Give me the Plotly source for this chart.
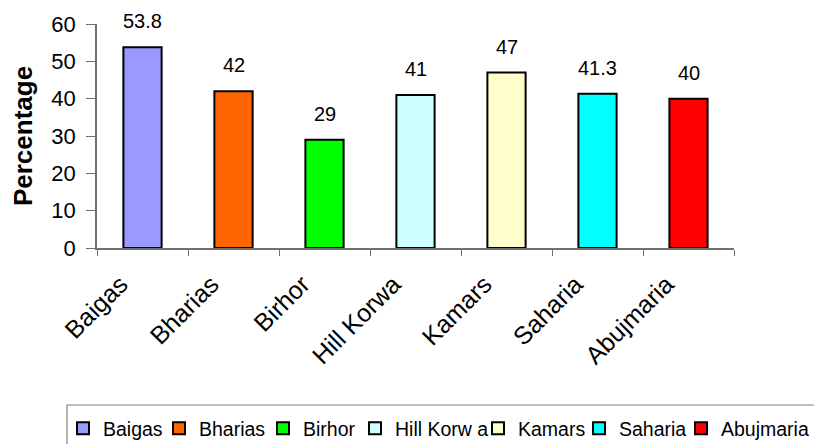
import plotly.graph_objects as go

categories = ["Baigas", "Bharias", "Birhor", "Hill Korwa", "Kamars", "Saharia", "Abujmaria"]
legend_names = ["Baigas", "Bharias", "Birhor", "Hill Korw a", "Kamars", "Saharia", "Abujmaria"]
values = [53.8, 42, 29, 41, 47, 41.3, 40]
value_labels = ["53.8", "42", "29", "41", "47", "41.3", "40"]
colors = ["#9999FF", "#FF6600", "#00FF00", "#CCFFFF", "#FFFFCC", "#00FFFF", "#FF0000"]
y_ticks = [0, 10, 20, 30, 40, 50, 60]

FONT = "Liberation Sans, Arial, sans-serif"
W, H = 814, 444
ML, MR, MT, MB = 97, 80, 24, 196
PW, PH = W - ML - MR, H - MT - MB


def px_x(p):
    return (p - ML) / PW


def px_y(p):
    return (H - MB - p) / PH


# legend layout: first four entries in legend, last three in legend2
legend_groups = ["legend"] * 4 + ["legend2"] * 3
legend_widths = [51, 59, 47, 110, 56, 57, 100]

fig = go.Figure()
for cat, name, v, c, lg, lw in zip(categories, legend_names, values, colors, legend_groups, legend_widths):
    fig.add_trace(go.Bar(
        x=[cat], y=[v], name=name, width=0.42,
        marker=dict(color=c, line=dict(color="black", width=2)),
        legend=lg, legendwidth=lw,
    ))

for cat, v, t in zip(categories, values, value_labels):
    fig.add_annotation(x=cat, y=v, text=t, showarrow=False, yshift=26, yanchor="middle",
                       font=dict(family=FONT, size=20, color="black"))

# legend frame
fig.add_shape(type="rect", xref="paper", yref="paper",
              x0=px_x(67), x1=px_x(830), y0=px_y(405), y1=px_y(460),
              line=dict(color="#808080", width=1.2), fillcolor="rgba(0,0,0,0)", layer="above")

legend_common = dict(orientation="h", xanchor="left", yanchor="top",
                     borderwidth=0, bgcolor="rgba(0,0,0,0)",
                     font=dict(family=FONT, size=19.5, color="black"),
                     itemwidth=30, traceorder="normal")

fig.update_layout(
    width=W, height=H,
    margin=dict(l=ML, r=MR, t=MT, b=MB, autoexpand=False),
    paper_bgcolor="white", plot_bgcolor="white",
    barmode="overlay",
    font=dict(family=FONT, size=20, color="black"),
    showlegend=True,
    legend=dict(x=px_x(63), y=px_y(409), **legend_common),
    legend2=dict(x=px_x(478), y=px_y(409), **legend_common),
    xaxis=dict(categoryorder="array", categoryarray=categories,
               showline=True, linecolor="#707070", linewidth=1.5,
               ticks="outside", tickson="boundaries", ticklen=6, tickcolor="#707070",
               tickangle=-45, tickfont=dict(family=FONT, size=25), showgrid=False,
               ticklabelshift=-22, ticklabelstandoff=10,
               automargin=False),
    yaxis=dict(range=[0, 60], tickvals=y_ticks, showline=True, linecolor="#707070",
               linewidth=1.5, ticks="outside", ticklen=9, tickcolor="#707070",
               ticklabelstandoff=6,
               tickfont=dict(family=FONT, size=22), showgrid=False, zeroline=False,
               automargin=False,
               title=dict(text="<b>Percentage</b>", font=dict(family=FONT, size=26), standoff=11)),
)

fig.write_html("out.html", config={"displayModeBar": False},
               post_script="document.body.style.margin='0';document.body.style.overflow='hidden';")
